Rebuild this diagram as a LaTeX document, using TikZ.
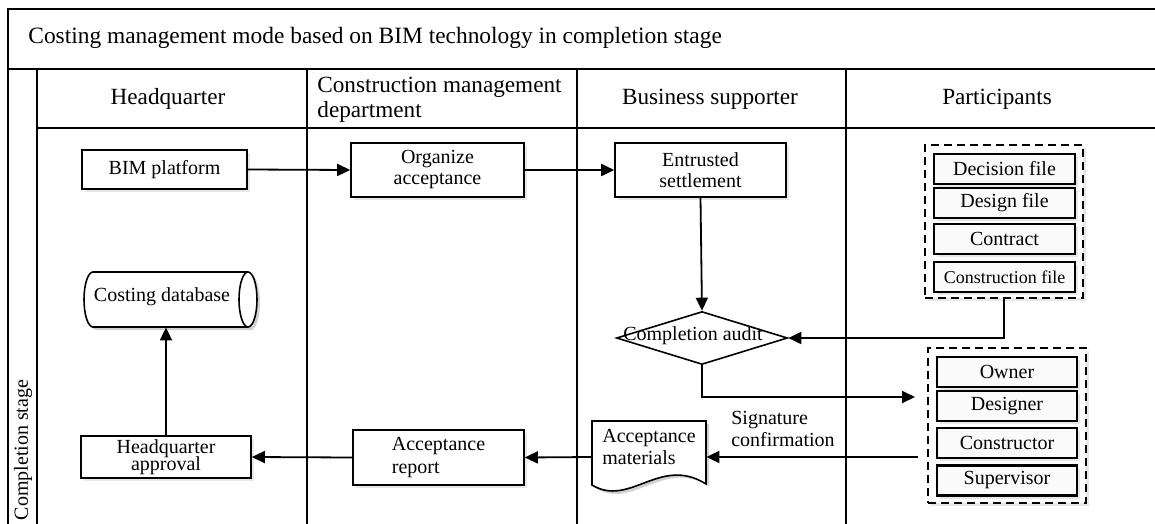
\documentclass[tikz,border=0pt]{standalone}
\usepackage{fontspec}
\setmainfont{Liberation Serif}
\usetikzlibrary{arrows.meta,shapes.geometric,shadows}
\begin{document}
\begin{tikzpicture}[x=0.5pt,y=-0.5pt,
  frame/.style={line width=1pt},
  shad/.style={drop shadow={shadow xshift=1.5pt,shadow yshift=-1.5pt,fill=black!18}},
  box/.style={draw,line width=0.8pt,fill=white,shad,align=center,inner sep=1pt,font=\fontsize{10}{11.5}\selectfont},
  item/.style={draw,line width=1.1pt,fill=gray!4,shad,minimum height=15pt,inner sep=0pt,font=\fontsize{10}{11}\selectfont},
  grp/.style={draw,dashed,dash pattern=on 4pt off 2.5pt,line width=1pt,fill=white,shad,inner sep=0pt},
  hdr/.style={font=\fontsize{11.6}{12.5}\selectfont},
  lbl/.style={font=\fontsize{10}{11}\selectfont,align=left,inner sep=0pt},
  arr/.style={-{Triangle[length=6.5pt,width=6pt]},line width=0.9pt}]
\useasboundingbox (0,0) rectangle (1155,524);
% frame and lanes
\draw[frame] (8,530) -- (8,9) -- (1170,9);
\draw[frame] (8,69) -- (1170,69);
\draw[frame] (37,128) -- (1170,128);
\draw[frame] (37,69) -- (37,530);
\draw[frame] (307,69) -- (307,530);
\draw[frame] (577,69) -- (577,530);
\draw[frame] (846,69) -- (846,530);
% titles
\node[hdr,font=\fontsize{11.7}{12.5}\selectfont,anchor=west,inner sep=0pt] (title) at (28,38) {Costing management mode based on BIM technology in completion stage};
\node[hdr] (h1) at (168,99) {Headquarter};
\node[hdr,align=left,anchor=west,inner sep=0pt] (h2) at (317,100) {Construction management\\department};
\node[hdr] (h3) at (710,99) {Business supporter};
\node[hdr] (h4) at (997,99) {Participants};
\node[font=\fontsize{10}{11}\selectfont,rotate=90,inner sep=0pt] (stage) at (23,450) {Completion stage};
% nodes
\node[box,minimum width=82.5pt,minimum height=19.5pt] (bim) at (164.5,169.5) {BIM platform};
\node[box,minimum width=86.5pt,minimum height=27pt] (org) at (437.5,170) {Organize\\[-1pt]acceptance};
\node[box,minimum width=85.5pt,minimum height=27pt] (ent) at (700.5,170) {Entrusted\\[-1pt]settlement};
\node[diamond,draw,line width=0.8pt,fill=white,minimum width=85.5pt,minimum height=26.5pt,inner sep=0pt] (ca) at (702,338) {};
\node[font=\fontsize{10}{11}\selectfont,inner sep=0pt] (catext) at (693,336) {Completion audit};
% cylinder (costing database)
\node[minimum width=86.5pt,minimum height=27.5pt,inner sep=0pt] (db) at (170.5,299.5) {};
\fill[black!18] (96,275) -- (251,275) arc[start angle=90,end angle=-90,x radius=4.5pt,y radius=13.75pt] -- (96,330) arc[start angle=270,end angle=90,x radius=4.5pt,y radius=13.75pt] -- cycle;
\draw[line width=0.8pt,fill=white] (93,272) -- (248,272) arc[start angle=90,end angle=-90,x radius=4.5pt,y radius=13.75pt] -- (93,327) arc[start angle=270,end angle=90,x radius=4.5pt,y radius=13.75pt] -- cycle;
\draw[line width=0.8pt] (248,272) arc[start angle=90,end angle=270,x radius=4.5pt,y radius=13.75pt];
\node[font=\fontsize{10}{11}\selectfont,inner sep=0pt] (dbtext) at (162,297) {Costing database};
\node[box,minimum width=85pt,minimum height=21pt] (hq) at (166,457) {Headquarter\\[-3pt]approval};
\node[box,minimum width=85.5pt,minimum height=27.5pt,align=left] (ar) at (438.5,457.5) {Acceptance\\[0pt]report};
% document shape
\node[minimum width=57pt,minimum height=36pt,inner sep=0pt] (am) at (649,457) {};
\fill[black!18] (595,424) -- (709,424) -- (709,486) .. controls (663,458) and (633,511) .. (595,488) -- cycle;
\draw[line width=0.8pt,fill=white] (592,421) -- (706,421) -- (706,484) .. controls (660,455) and (630,508) .. (592,485) -- cycle;
\node[lbl] (amtext) at (649,447) {Acceptance\\[0pt]materials};
% participant groups
\node[grp,minimum width=79pt,minimum height=76.5pt] (g1) at (1004,221.5) {};
\node[item,minimum width=70.5pt] (d1) at (1004.5,169) {Decision file};
\node[item,minimum width=70.5pt] (d2) at (1004.5,203) {Design file};
\node[item,minimum width=70.5pt] (d3) at (1004.5,239) {Contract};
\node[item,minimum width=70.5pt,font=\fontsize{9}{10}\selectfont] (d4) at (1004.5,277) {Construction file};
\node[grp,minimum width=79pt,minimum height=77.5pt] (g2) at (1007,425.5) {};
\node[item,minimum width=70pt] (p1) at (1007,372) {Owner};
\node[item,minimum width=70pt] (p2) at (1007,406) {Designer};
\node[item,minimum width=70pt] (p3) at (1007,443) {Constructor};
\node[item,minimum width=70pt] (p4) at (1007,480.5) {Supervisor};
% connectors
\coordinate (c1) at (915,397);
\coordinate (c2) at (918,457);
\draw[arr] (bim.east) -- (org.west);
\draw[arr] (org.east) -- (ent.west);
\draw[arr] (ent.south) -- (ca.north);
\draw[arr] (g1.south) |- (ca.east);
\draw[arr] (ca.south) |- (c1);
\draw[arr] (c2) -- (am.east |- c2);
\node[lbl] (sig) at (783,429) {Signature\\confirmation};
\draw[arr] (am.west) -- (ar.east);
\draw[arr] (ar.west) -- (hq.east);
\draw[arr] (hq.north) -- (hq.north |- db.south);
\end{tikzpicture}
\end{document}
